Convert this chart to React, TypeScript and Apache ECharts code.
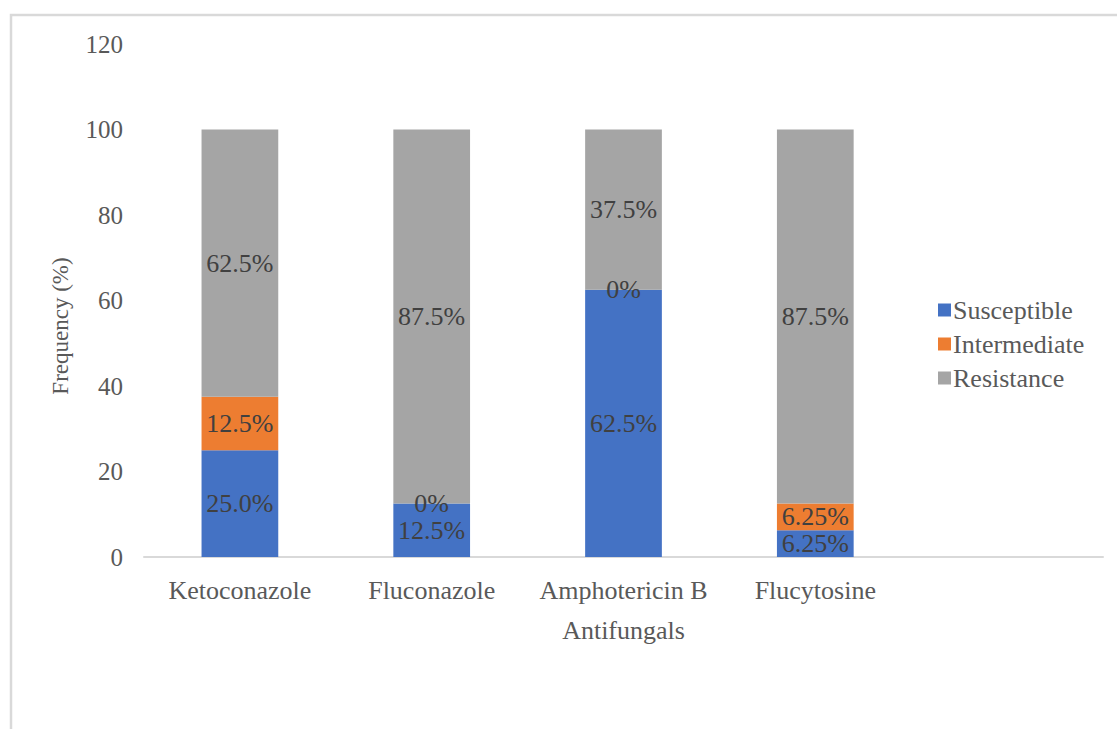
import React, { useEffect, useRef } from "react";
import * as echarts from "echarts";

const categories = ["Ketoconazole", "Fluconazole", "Amphotericin B", "Flucytosine", ""];
const susceptible = [25, 12.5, 62.5, 6.25, null];
const intermediate = [12.5, 0, 0, 6.25, null];
const resistance = [62.5, 87.5, 37.5, 87.5, null];
const susceptibleLabels = ["25.0%", "12.5%", "62.5%", "6.25%", ""];
const intermediateLabels = ["12.5%", "0%", "0%", "6.25%", ""];
const resistanceLabels = ["62.5%", "87.5%", "37.5%", "87.5%", ""];
const yTicks = [0, 20, 40, 60, 80, 100, 120];

const FONT = '"Liberation Serif", "Times New Roman", serif';

export default function App() {
  const ref = useRef<HTMLDivElement>(null);
  useEffect(() => {
    if (!ref.current) return;
    const chart = echarts.init(ref.current, null, { renderer: "svg" });
    const label = (texts: string[]) => ({
      show: true,
      position: "inside",
      color: "#404040",
      fontFamily: FONT,
      fontSize: 26,
      formatter: (p: any) => texts[p.dataIndex],
    });
    chart.setOption({
      animation: false,
      backgroundColor: "#ffffff",
      textStyle: { fontFamily: FONT },
      grid: { left: 144, right: 14, top: 44, bottom: 172, containLabel: false },
      legend: {
        orient: "vertical",
        left: 933,
        top: 292,
        itemWidth: 13,
        itemHeight: 13,
        itemGap: 8,
        icon: "rect",
        textStyle: { fontFamily: FONT, fontSize: 26, color: "#595959", padding: [0, 0, 0, -3] },
        data: ["Susceptible", "Intermediate", "Resistance"],
      },
      xAxis: {
        type: "category",
        data: categories,
        name: "Antifungals",
        nameLocation: "middle",
        nameGap: 60,
        nameTextStyle: { fontFamily: FONT, fontSize: 26, color: "#595959", verticalAlign: "top" },
        axisLine: { lineStyle: { color: "#d9d9d9", width: 2 } },
        axisTick: { show: false },
        axisLabel: { fontFamily: FONT, fontSize: 26, color: "#595959", margin: 20, interval: 0 },
      },
      yAxis: {
        type: "value",
        min: yTicks[0],
        max: yTicks[yTicks.length - 1],
        interval: 20,
        axisLine: { show: false },
        axisTick: { show: false },
        splitLine: { show: false },
        axisLabel: { fontFamily: FONT, fontSize: 25, color: "#595959", margin: 21 },
      },
      graphic: [
        {
          type: "rect",
          shape: { x: 11, y: 15, width: 1300, height: 900 },
          style: { fill: "none", stroke: "#d9d9d9", lineWidth: 2.5 },
          silent: true,
        },
        {
          type: "text",
          x: 60,
          y: 326,
          rotation: Math.PI / 2,
          style: {
            text: "Frequency (%)",
            fontFamily: FONT,
            fontSize: 23,
            fill: "#595959",
            align: "center",
            verticalAlign: "middle",
          },
        },
      ],
      series: [
        {
          name: "Susceptible",
          type: "bar",
          stack: "total",
          barWidth: "40%",
          data: susceptible,
          itemStyle: { color: "#4472C4" },
          label: label(susceptibleLabels),
        },
        {
          name: "Intermediate",
          type: "bar",
          stack: "total",
          barWidth: "40%",
          data: intermediate,
          itemStyle: { color: "#ED7D31" },
          label: label(intermediateLabels),
        },
        {
          name: "Resistance",
          type: "bar",
          stack: "total",
          barWidth: "40%",
          data: resistance,
          itemStyle: { color: "#A5A5A5" },
          label: label(resistanceLabels),
        },
      ],
    });
    return () => chart.dispose();
  }, []);
  return (
    <div
      ref={ref}
      style={{ position: "fixed", left: 0, top: 0, width: 1117, height: 729, background: "#fff" }}
    />
  );
}
